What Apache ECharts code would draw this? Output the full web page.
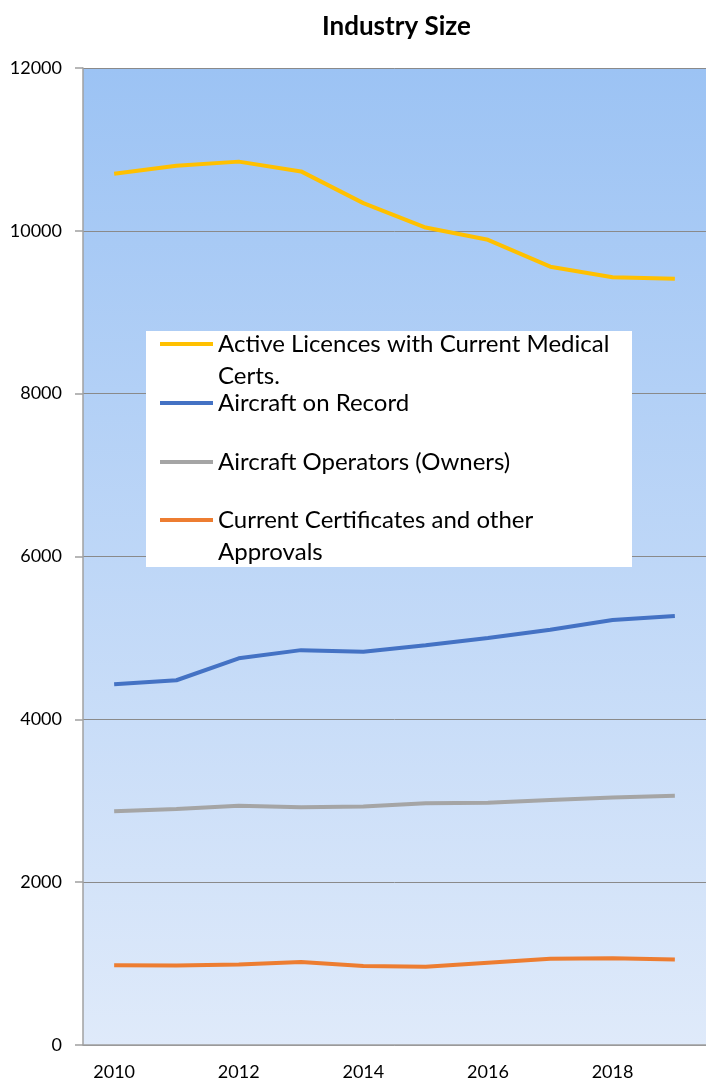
<!DOCTYPE html>
<html>
<head>
<meta charset="utf-8">
<script src="https://cdn.jsdelivr.net/npm/echarts@6/dist/echarts.min.js"></script>
<style>
  html, body { margin: 0; padding: 0; background: #ffffff; }
  #chart { width: 706px; height: 1082px; }
</style>
</head>
<body>
<div id="chart"></div>
<script>
// years on the x axis
var years = ['2010', '2011', '2012', '2013', '2014', '2015', '2016', '2017', '2018', '2019'];

// series values
var activeLicences = [10700, 10800, 10850, 10730, 10340, 10040, 9890, 9560, 9430, 9410];
var aircraftOnRecord = [4430, 4480, 4750, 4850, 4830, 4910, 5000, 5100, 5220, 5270];
var aircraftOperators = [2870, 2900, 2940, 2920, 2930, 2970, 2975, 3010, 3040, 3060];
var currentCerts = [980, 975, 990, 1020, 970, 960, 1010, 1060, 1065, 1050];

var seriesNames = [
    'Active Licences with Current Medical Certs.',
    'Aircraft on Record',
    'Aircraft Operators (Owners)',
    'Current Certificates and other Approvals'
];
// how the legend wraps each name
var legendLabels = [
    'Active Licences with Current Medical\nCerts.',
    'Aircraft on Record',
    'Aircraft Operators (Owners)',
    'Current Certificates and other\nApprovals'
];
var seriesColors = ['#ffc000', '#4472c4', '#a5a5a5', '#ed7d31'];
var seriesData = [activeLicences, aircraftOnRecord, aircraftOperators, currentCerts];

// y axis ticks
var yMin = 0, yMax = 12000, yStep = 2000;

var chart = echarts.init(document.getElementById('chart'));

// one legend per item so each one can sit where it does in the picture.
// two-line items get a tall icon with the line drawn at its top, so the
// swatch lines up with the first line of text like in Excel
var legendTops = [328, 387, 446, 504];
var tallIcon = 'path://M0,0 L53,0 L53,4 L0,4 Z M0,36 L53,36 L53,36.01 L0,36.01 Z';
var legends = seriesNames.map(function (name, i) {
    var twoLines = legendLabels[i].indexOf('\n') >= 0;
    return {
        data: [name],
        left: 160,
        top: legendTops[i],
        orient: 'vertical',
        padding: 0,
        z: 5,
        icon: twoLines ? tallIcon : 'rect',
        symbolKeepAspect: false,
        itemWidth: 53,
        itemHeight: twoLines ? 36 : 4,
        selectedMode: false,
        formatter: function () { return legendLabels[i]; },
        textStyle: {
            fontFamily: 'Lato',
            fontSize: 24,
            lineHeight: 32,
            color: '#000000'
        }
    };
});

var option = {
    animation: false,
    backgroundColor: '#ffffff',
    title: {
        text: 'Industry Size',
        left: 317,
        top: 9,
        textStyle: {
            fontFamily: 'Lato',
            fontWeight: 'bold',
            fontSize: 26,
            color: '#000000'
        }
    },
    legend: legends,
    graphic: [
        {
            // white legend box
            type: 'rect',
            left: 146,
            top: 331,
            z: 3,
            shape: { width: 486, height: 236 },
            style: { fill: '#ffffff' }
        }
    ],
    grid: {
        left: 83,
        top: 68,
        width: 627,
        height: 977,
        show: true,
        borderWidth: 0,
        backgroundColor: new echarts.graphic.LinearGradient(0, 0, 0, 1, [
            { offset: 0, color: '#9cc3f4' },
            { offset: 1, color: '#dfeafa' }
        ])
    },
    xAxis: {
        type: 'category',
        data: years,
        boundaryGap: true,
        axisLine: { lineStyle: { color: '#a0a0a0', width: 1.5 } },
        axisTick: { interval: 0, length: 8, lineStyle: { color: '#a0a0a0', width: 1.5 } },
        axisLabel: {
            interval: 1,
            margin: 18,
            fontFamily: 'Lato',
            fontSize: 18,
            color: '#000000'
        },
        splitLine: { show: false }
    },
    yAxis: {
        type: 'value',
        min: yMin,
        max: yMax,
        interval: yStep,
        axisLine: { show: true, lineStyle: { color: '#a0a0a0', width: 1.5 } },
        axisTick: { show: true, length: 8, lineStyle: { color: '#a0a0a0', width: 1.5 } },
        axisLabel: {
            margin: 21,
            fontFamily: 'Lato',
            fontSize: 18,
            color: '#000000',
            formatter: function (v) { return String(v); }
        },
        splitLine: { lineStyle: { color: '#8a8a8a', width: 1 } }
    },
    series: seriesNames.map(function (name, i) {
        return {
            name: name,
            type: 'line',
            data: seriesData[i],
            symbol: 'none',
            smooth: false,
            color: seriesColors[i],
            lineStyle: { color: seriesColors[i], width: 4 }
        };
    })
};

chart.setOption(option);
</script>
</body>
</html>
